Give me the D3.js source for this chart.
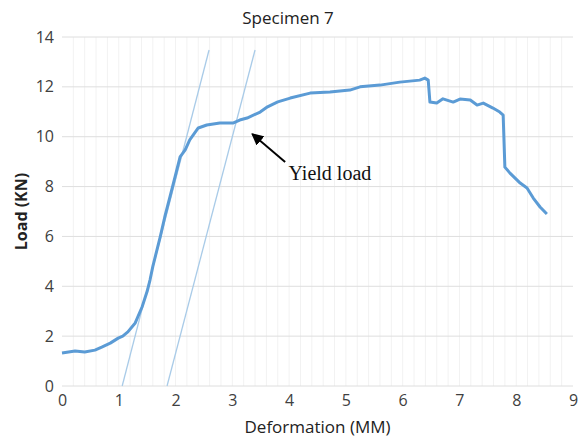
<!DOCTYPE html>
<html lang="en">
<head>
    <meta charset="UTF-8">
    <title>Specimen 7</title>
    <script src="https://d3js.org/d3.v7.min.js"></script>
    <style>
        body {
            margin: 0;
            background: #fff;
            font-family: "Open Sans", Arial, sans-serif;
        }
        .tick text {
            font-family: "Open Sans", Arial, sans-serif;
            fill: #404040;
        }
    </style>
</head>
<body>
<div id="chart"></div>
<script>
    // load-deformation curve
    const deformation = [0, 0.23, 0.40, 0.58, 0.70, 0.85, 0.99, 1.07, 1.16, 1.29, 1.41, 1.50, 1.55, 1.60, 1.73, 1.81,
        1.90, 1.99, 2.08, 2.17, 2.25, 2.40, 2.55, 2.78, 3.01, 3.13, 3.26, 3.49, 3.62, 3.80, 4.02, 4.37, 4.72, 5.07, 5.25,
        5.60, 5.95, 6.30, 6.39, 6.45, 6.48, 6.60, 6.71, 6.89, 7.01, 7.19, 7.31, 7.42, 7.59, 7.71, 7.77, 7.80, 7.89,
        8.07, 8.19, 8.30, 8.42, 8.54];
    const load = [1.32, 1.40, 1.36, 1.44, 1.56, 1.72, 1.92, 2.00, 2.17, 2.53, 3.17, 3.80, 4.25, 4.80, 5.98, 6.78,
        7.58, 8.38, 9.19, 9.47, 9.87, 10.35, 10.47, 10.55, 10.55, 10.67, 10.75, 10.99, 11.20, 11.40, 11.55, 11.75, 11.79,
        11.87, 12.00, 12.07, 12.19, 12.27, 12.35, 12.27, 11.39, 11.35, 11.52, 11.39, 11.51, 11.47, 11.27, 11.35,
        11.15, 10.99, 10.87, 8.78, 8.54, 8.14, 7.94, 7.54, 7.18, 6.90];

    // the two parallel offset lines
    const offsetLine1 = [[1.06, 0], [2.59, 13.48]];
    const offsetLine2 = [[1.85, 0], [3.40, 13.48]];

    const xTicks = [0, 1, 2, 3, 4, 5, 6, 7, 8, 9];
    const yTicks = [0, 2, 4, 6, 8, 10, 12, 14];

    // annotation: arrow tip, arrow tail, text position
    const arrowTip = [3.35, 10.11];
    const arrowTail = [3.93, 8.99];
    const labelPos = [3.99, 8.26];

    const totalW = 580, totalH = 437;
    const margin = {top: 37, right: 7, bottom: 51, left: 62};
    const width = totalW - margin.left - margin.right;
    const height = totalH - margin.top - margin.bottom;

    const svg = d3.select("#chart")
        .append("svg")
        .attr("width", totalW)
        .attr("height", totalH);

    const g = svg.append("g")
        .attr("transform", `translate(${margin.left},${margin.top})`);

    const x = d3.scaleLinear().domain([0, 9]).range([0, width]);
    const y = d3.scaleLinear().domain([0, 14]).range([height, 0]);

    // faint vertical minor grid every 0.2
    g.append("g")
        .selectAll("line")
        .data(d3.range(1, 45).map(i => i * 0.2))
        .join("line")
        .attr("x1", d => x(d))
        .attr("x2", d => x(d))
        .attr("y1", 0)
        .attr("y2", height)
        .attr("stroke", "#f2f2f2")
        .attr("stroke-width", 1);

    // horizontal grid
    g.append("g")
        .selectAll("line")
        .data(yTicks)
        .join("line")
        .attr("x1", 0)
        .attr("x2", width)
        .attr("y1", d => y(d))
        .attr("y2", d => y(d))
        .attr("stroke", "#dedede")
        .attr("stroke-width", 1);

    const xAxis = g.append("g")
        .attr("transform", `translate(0,${height})`)
        .call(d3.axisBottom(x).tickValues(xTicks).tickSize(0).tickPadding(9).tickFormat(d3.format("d")));
    xAxis.select(".domain").remove();
    xAxis.selectAll("text").style("font-size", "16px");

    const yAxis = g.append("g")
        .call(d3.axisLeft(y).tickValues(yTicks).tickSize(0).tickPadding(8).tickFormat(d3.format("d")));
    yAxis.select(".domain").remove();
    yAxis.selectAll("text").style("font-size", "16px");

    const line = d3.line()
        .x(d => x(d[0]))
        .y(d => y(d[1]));

    [offsetLine1, offsetLine2].forEach(pts => {
        g.append("path")
            .datum(pts)
            .attr("d", line)
            .attr("fill", "none")
            .attr("stroke", "#a9cbe8")
            .attr("stroke-width", 1.3);
    });

    const curve = deformation.map((d, i) => [d, load[i]]);
    g.append("path")
        .datum(curve)
        .attr("d", line)
        .attr("fill", "none")
        .attr("stroke", "#5b9bd5")
        .attr("stroke-width", 3)
        .attr("stroke-linejoin", "round");

    // arrow
    svg.append("defs").append("marker")
        .attr("id", "arrow")
        .attr("viewBox", "0 0 10 10")
        .attr("refX", 9)
        .attr("refY", 5)
        .attr("markerWidth", 6)
        .attr("markerHeight", 6)
        .attr("markerUnits", "strokeWidth")
        .attr("orient", "auto")
        .append("path")
        .attr("d", "M0,0 L10,5 L0,10 Z")
        .attr("fill", "#000");

    g.append("line")
        .attr("x1", x(arrowTail[0]))
        .attr("y1", y(arrowTail[1]))
        .attr("x2", x(arrowTip[0]))
        .attr("y2", y(arrowTip[1]))
        .attr("stroke", "#000")
        .attr("stroke-width", 2)
        .attr("marker-end", "url(#arrow)");

    g.append("text")
        .attr("x", x(labelPos[0]))
        .attr("y", y(labelPos[1]))
        .attr("font-family", "'Liberation Serif', 'Times New Roman', serif")
        .attr("font-size", "20px")
        .attr("fill", "#111")
        .text("Yield load");

    // titles
    svg.append("text")
        .attr("x", 288)
        .attr("y", 24)
        .attr("text-anchor", "middle")
        .attr("font-size", "17px")
        .attr("fill", "#222")
        .text("Specimen 7");

    svg.append("text")
        .attr("x", margin.left + width / 2)
        .attr("y", 433)
        .attr("text-anchor", "middle")
        .attr("font-size", "17px")
        .attr("fill", "#222")
        .text("Deformation (MM)");

    svg.append("text")
        .attr("transform", `translate(27,${margin.top + height / 2}) rotate(-90)`)
        .attr("text-anchor", "middle")
        .attr("font-size", "16px")
        .attr("font-weight", "bold")
        .attr("fill", "#222")
        .text("Load (KN)");
</script>
</body>
</html>
